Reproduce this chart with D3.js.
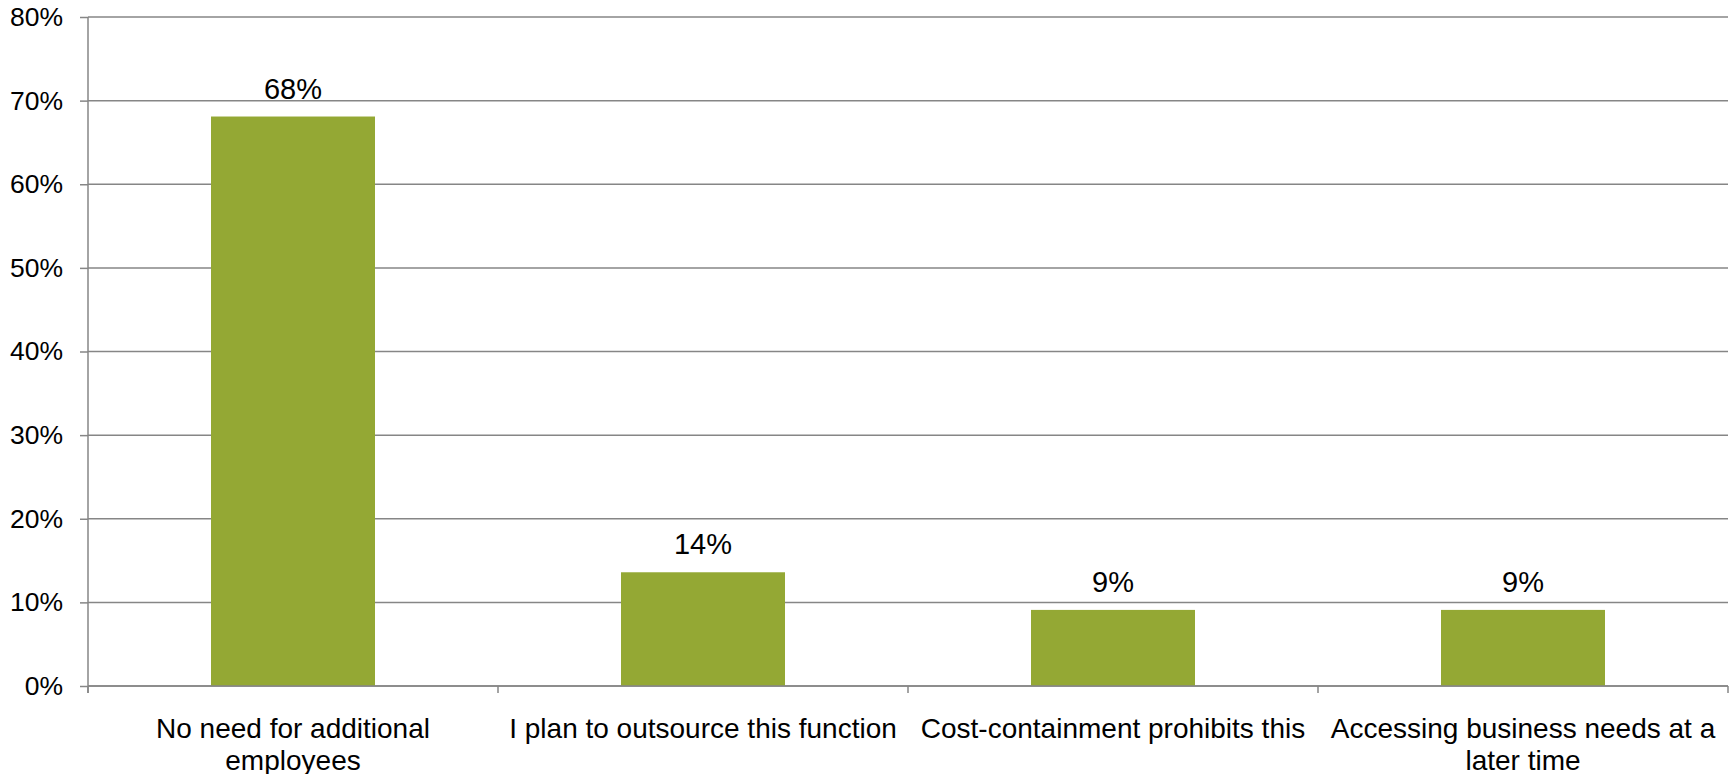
<!DOCTYPE html>
<html>
<head>
<meta charset="utf-8">
<script src="https://cdn.jsdelivr.net/npm/d3@7"></script>
<style>
  html, body { margin: 0; padding: 0; background: #fff; }
  svg { display: block; font-family: "Liberation Sans", Arial, sans-serif; }
</style>
</head>
<body>
<svg id="chart" width="1732" height="774"></svg>
<script>
const categories = [
  'No need for additional employees',
  'I plan to outsource this function',
  'Cost-containment prohibits this',
  'Accessing business needs at a later time',
];
const values = [68.1, 13.6, 9.1, 9.1];
const yTicks = [0, 10, 20, 30, 40, 50, 60, 70, 80];

const BAR_COLOR = '#94a834';
const GRID_COLOR = '#868686';

const svg = d3.select('#chart');
const margin = { top: 17, right: 4, bottom: 88, left: 88 };
const width = 1732 - margin.left - margin.right;
const height = 774 - margin.top - margin.bottom;

const g = svg.append('g').attr('transform', `translate(${margin.left},${margin.top})`);

const x = d3.scaleBand().domain(categories).range([0, width]).paddingInner(0.6).paddingOuter(0.3);
const xEdges = d3.scaleLinear().domain([0, categories.length]).range([0, width]);
const y = d3.scaleLinear().domain([0, 80]).range([height, 0]);

// gridlines
g.selectAll('line.grid').data(yTicks).enter().append('line')
  .attr('class', 'grid')
  .attr('x1', 0).attr('x2', width)
  .attr('y1', d => y(d)).attr('y2', d => y(d))
  .attr('stroke', GRID_COLOR).attr('stroke-width', 1.5);

// y axis
const yAxis = g.append('g').call(
  d3.axisLeft(y).tickValues(yTicks).tickSize(8).tickPadding(17).tickFormat(d => d + '%')
);
yAxis.select('.domain').remove();
yAxis.selectAll('line').attr('stroke', GRID_COLOR).attr('stroke-width', 1.5);
yAxis.selectAll('text').attr('font-size', 26.5).attr('fill', '#000')
  .attr('font-family', '"Liberation Sans", Arial, sans-serif');
g.append('line').attr('x1', 0).attr('x2', 0).attr('y1', 0).attr('y2', height + 7)
  .attr('stroke', GRID_COLOR).attr('stroke-width', 1.5);

// bars
g.selectAll('rect.bar').data(values).enter().append('rect')
  .attr('class', 'bar')
  .attr('x', (d, i) => x(categories[i]))
  .attr('width', x.bandwidth())
  .attr('y', d => y(d))
  .attr('height', d => height - y(d))
  .attr('fill', BAR_COLOR);

// value labels
g.selectAll('text.val').data(values).enter().append('text')
  .attr('class', 'val')
  .attr('x', (d, i) => x(categories[i]) + x.bandwidth() / 2)
  .attr('y', d => y(d) - 18)
  .attr('text-anchor', 'middle')
  .attr('font-size', 29)
  .text(d => Math.round(d) + '%');

// x axis line + tick marks at band edges
g.append('line').attr('x1', 0).attr('x2', width).attr('y1', height).attr('y2', height)
  .attr('stroke', GRID_COLOR).attr('stroke-width', 1.5);
g.selectAll('line.xtick').data(d3.range(categories.length + 1)).enter().append('line')
  .attr('class', 'xtick')
  .attr('x1', d => xEdges(d)).attr('x2', d => xEdges(d))
  .attr('y1', height).attr('y2', height + 7)
  .attr('stroke', GRID_COLOR).attr('stroke-width', 1.5);

// category labels, wrapped
const maxW = 400;
g.selectAll('text.cat').data(categories).enter().append('text')
  .attr('class', 'cat')
  .attr('text-anchor', 'middle')
  .attr('font-size', 28)
  .attr('x', d => x(d) + x.bandwidth() / 2)
  .attr('y', height + 52)
  .each(function (d) {
    const t = d3.select(this);
    const cx = +t.attr('x');
    const words = d.split(' ');
    let line = [];
    let tspan = t.append('tspan').attr('x', cx).attr('dy', 0);
    words.forEach(w => {
      line.push(w);
      tspan.text(line.join(' '));
      if (tspan.node().getComputedTextLength() > maxW && line.length > 1) {
        line.pop();
        tspan.text(line.join(' '));
        line = [w];
        tspan = t.append('tspan').attr('x', cx).attr('dy', 32).text(w);
      }
    });
  });
</script>
</body>
</html>
